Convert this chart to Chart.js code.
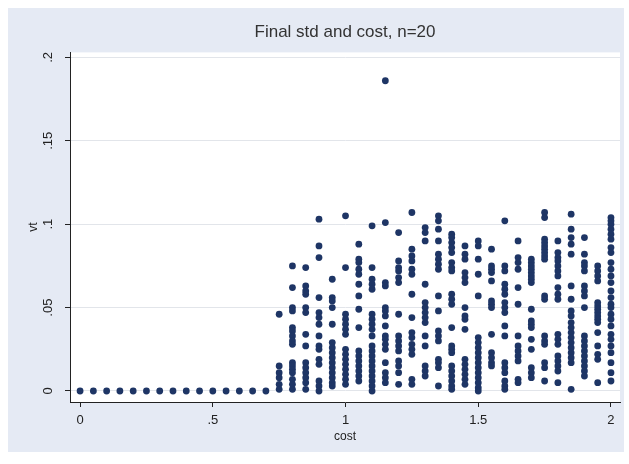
<!DOCTYPE html>
<html>
<head>
<meta charset="utf-8">
<script src="https://cdn.jsdelivr.net/npm/chart.js@4"></script>
<style>
  html, body { margin: 0; padding: 0; background: #fff; }
  #wrap { width: 629px; height: 464px; }
</style>
</head>
<body>
<div id="wrap"><canvas id="myChart" width="629" height="464"></canvas></div>
<script>
// cost levels (x) and the vt values
const costLevels = [0, 0.05, 0.1, 0.15, 0.2, 0.25, 0.3, 0.35, 0.4, 0.45, 0.5, 0.55, 0.6, 0.65, 0.7,
  0.75, 0.8, 0.85, 0.9, 0.95, 1, 1.05, 1.1, 1.15, 1.2, 1.25, 1.3, 1.35, 1.4, 1.45, 1.5,
  1.55, 1.6, 1.65, 1.7, 1.75, 1.8, 1.85, 1.9, 1.95, 2];

const vtByCost = [
  [0], [0], [0], [0], [0], [0], [0], [0], [0], [0], [0], [0], [0], [0], [0],
  [0.046, 0.015, 0.011, 0.008, 0.004, 0.001],
  [0.075, 0.062, 0.050, 0.048, 0.038, 0.036, 0.033, 0.030, 0.028, 0.017, 0.015, 0.013, 0.011, 0.007, 0.004, 0.001],
  [0.074, 0.063, 0.060, 0.058, 0.050, 0.047, 0.034, 0.027, 0.017, 0.014, 0.011, 0.008, 0.005, 0.001],
  [0.103, 0.087, 0.080, 0.056, 0.047, 0.044, 0.040, 0.033, 0.027, 0.025, 0.019, 0.016, 0.006, 0.003, 0.000],
  [0.067, 0.056, 0.054, 0.050, 0.040, 0.029, 0.026, 0.023, 0.020, 0.017, 0.014, 0.011, 0.008, 0.005, 0.003],
  [0.105, 0.074, 0.046, 0.043, 0.040, 0.037, 0.034, 0.025, 0.022, 0.019, 0.016, 0.013, 0.010, 0.007, 0.004],
  [0.088, 0.079, 0.077, 0.073, 0.070, 0.064, 0.057, 0.049, 0.038, 0.024, 0.021, 0.018, 0.015, 0.012, 0.009, 0.006],
  [0.099, 0.074, 0.067, 0.064, 0.061, 0.046, 0.043, 0.040, 0.037, 0.033, 0.027, 0.024, 0.021, 0.018, 0.015, 0.012, 0.009, 0.006, 0.003, 0.000],
  [0.186, 0.101, 0.065, 0.063, 0.050, 0.048, 0.045, 0.039, 0.033, 0.031, 0.028, 0.025, 0.017, 0.011, 0.008, 0.005],
  [0.095, 0.078, 0.074, 0.072, 0.068, 0.065, 0.046, 0.033, 0.030, 0.027, 0.024, 0.018, 0.015, 0.011, 0.004],
  [0.107, 0.085, 0.081, 0.078, 0.073, 0.070, 0.058, 0.044, 0.035, 0.032, 0.028, 0.025, 0.022, 0.007, 0.004],
  [0.098, 0.095, 0.090, 0.064, 0.053, 0.050, 0.047, 0.044, 0.041, 0.033, 0.027, 0.015, 0.012, 0.009],
  [0.105, 0.102, 0.097, 0.090, 0.082, 0.079, 0.076, 0.073, 0.057, 0.048, 0.036, 0.033, 0.030, 0.019, 0.017, 0.014, 0.003],
  [0.094, 0.092, 0.089, 0.086, 0.083, 0.077, 0.074, 0.072, 0.058, 0.055, 0.052, 0.038, 0.027, 0.025, 0.023, 0.015, 0.012, 0.009, 0.006, 0.003, 0.001],
  [0.087, 0.082, 0.079, 0.071, 0.068, 0.065, 0.050, 0.045, 0.043, 0.037, 0.019, 0.016, 0.013, 0.010, 0.007, 0.004],
  [0.090, 0.087, 0.079, 0.070, 0.057, 0.032, 0.029, 0.026, 0.023, 0.020, 0.017, 0.014, 0.011, 0.008, 0.005, 0.002, 0.000],
  [0.085, 0.075, 0.073, 0.071, 0.066, 0.054, 0.052, 0.050, 0.034, 0.023, 0.020, 0.017, 0.015],
  [0.102, 0.075, 0.072, 0.064, 0.061, 0.058, 0.053, 0.050, 0.047, 0.039, 0.033, 0.017, 0.014, 0.011, 0.006, 0.003, 0.001],
  [0.090, 0.080, 0.077, 0.073, 0.062, 0.052, 0.033, 0.027, 0.024, 0.021, 0.018, 0.007, 0.005],
  [0.079, 0.077, 0.075, 0.073, 0.071, 0.069, 0.067, 0.065, 0.049, 0.042, 0.040, 0.038, 0.031, 0.025, 0.014, 0.011, 0.008],
  [0.107, 0.104, 0.091, 0.089, 0.087, 0.085, 0.083, 0.081, 0.079, 0.057, 0.055, 0.033, 0.030, 0.028, 0.017, 0.014, 0.006],
  [0.090, 0.083, 0.080, 0.078, 0.075, 0.072, 0.069, 0.062, 0.058, 0.055, 0.034, 0.031, 0.028, 0.021, 0.018, 0.015, 0.012, 0.005],
  [0.106, 0.097, 0.092, 0.088, 0.082, 0.063, 0.055, 0.048, 0.045, 0.041, 0.038, 0.035, 0.032, 0.029, 0.026, 0.023, 0.020, 0.017, 0.001],
  [0.092, 0.082, 0.077, 0.075, 0.072, 0.063, 0.060, 0.057, 0.050, 0.033, 0.030, 0.027, 0.024, 0.021, 0.018, 0.015, 0.012, 0.009],
  [0.075, 0.072, 0.069, 0.066, 0.053, 0.051, 0.049, 0.047, 0.045, 0.043, 0.041, 0.035, 0.027, 0.022, 0.019, 0.005],
  [0.104, 0.102, 0.100, 0.097, 0.094, 0.091, 0.086, 0.083, 0.077, 0.073, 0.069, 0.065, 0.060, 0.056, 0.052, 0.050, 0.046, 0.043, 0.039, 0.034, 0.031, 0.027, 0.023, 0.017, 0.011, 0.006]
];

const xTicks = [0, 0.5, 1, 1.5, 2];
const yTicks = [0, 0.05, 0.1, 0.15, 0.2];

const points = [];
costLevels.forEach((c, i) => {
  vtByCost[i].forEach(v => points.push({ x: c, y: v }));
});

// stata-like: strip the leading zero (.5, .05)
const stataLabel = v => String(v).replace(/^0\./, '.');

const bgPlugin = {
  id: 'bg',
  beforeDraw(chart) {
    const { ctx, chartArea } = chart;
    ctx.save();
    ctx.fillStyle = '#e5eaf4';
    ctx.fillRect(8, 8, 616, 444);
    ctx.fillStyle = '#ffffff';
    ctx.fillRect(chartArea.left, chartArea.top, chartArea.right - chartArea.left, chartArea.bottom - chartArea.top);
    ctx.restore();
  }
};

Chart.defaults.font.family = '"Liberation Sans", Arial, sans-serif';
Chart.defaults.color = '#222';

new Chart("myChart", {
  type: "scatter",
  data: {
    datasets: [{
      data: points,
      backgroundColor: '#1e3565',
      borderWidth: 0,
      pointRadius: 3.4,
      pointHoverRadius: 3.4
    }]
  },
  options: {
    responsive: false,
    animation: false,
    events: [],
    layout: { padding: { left: 8, right: 9, top: 0, bottom: 12 } },
    plugins: {
      legend: { display: false },
      tooltip: { enabled: false },
      title: {
        display: true,
        text: 'Final std and cost, n=20',
        fullSize: false,
        color: '#333',
        font: { size: 17, weight: 'normal' },
        padding: { top: 22, bottom: 10 }
      }
    },
    scales: {
      x: {
        type: 'linear',
        min: -0.038,
        max: 2.034,
        afterBuildTicks: s => { s.ticks = xTicks.map(v => ({ value: v })); },
        afterFit: s => { s.height = 50; },
        ticks: { callback: stataLabel, font: { size: 13 }, padding: 6, maxRotation: 0 },
        grid: { drawOnChartArea: false, tickLength: 5, tickColor: '#222' },
        border: { display: true, color: '#222', width: 1 },
        title: { display: true, text: 'cost', font: { size: 12 }, padding: { top: 0, bottom: 8 } }
      },
      y: {
        type: 'linear',
        min: -0.0066,
        max: 0.203,
        afterBuildTicks: s => { s.ticks = yTicks.map(v => ({ value: v })); },
        afterFit: s => { s.width = 62; },
        ticks: { callback: stataLabel, font: { size: 13 }, padding: 8, minRotation: 90, maxRotation: 90, crossAlign: 'center' },
        grid: { color: '#e2e5ea', tickLength: 5, tickColor: '#222' },
        border: { display: true, color: '#222', width: 1 },
        title: { display: true, text: 'vt', font: { size: 12 }, padding: { top: 18, bottom: 0 } }
      }
    }
  },
  plugins: [bgPlugin]
});
</script>
</body>
</html>
